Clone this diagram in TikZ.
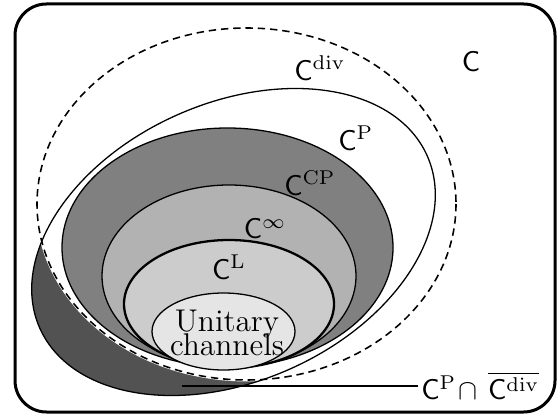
\documentclass[tikz,border=0pt]{standalone}
\usepackage{amsmath, amssymb}
\usetikzlibrary{calc}

\tikzset{
    setline/.style={black, line width=0.45pt},
    divline/.style={black, dash pattern=on 2.6pt off 1.7pt, line width=0.55pt},
}

\begin{document}
\begin{tikzpicture}[x=0.35pt, y=-0.35pt]
            \useasboundingbox (0,0) rectangle (558,420);
            \coordinate (Div) at (246.5,204);
            \coordinate (P) at (233.5,242);
            \coordinate (CP) at (227.5,247.5);
            \coordinate (Inf) at (229,276);
            \coordinate (L) at (229,304);
            \coordinate (U) at (223.5,331.5);
            \coordinate (Cut) at (182,386);

            \draw[line width=1.05pt, rounded corners=11pt] (15,4) rectangle (555,412);

            % the part of C^P lying outside C^div
            \fill[black!68, rotate around={24:(P)}] (P) ellipse [x radius=212, y radius=139];
            \fill[white] (Div) ellipse [x radius=209.5, y radius=176];
            \draw[white, line width=1pt] (Div) ellipse [x radius=209.5, y radius=176];
            \draw[setline, rotate around={24:(P)}] (P) ellipse [x radius=212, y radius=139];
            \draw[divline] (Div) ellipse [x radius=209.5, y radius=176];

            \draw[setline, fill=black!50] (CP) ellipse [x radius=165.5, y radius=119.5];
            \draw[setline, fill=black!30] (Inf) ellipse [x radius=127, y radius=91];
            \draw[black, line width=0.8pt, fill=black!20] (L) ellipse [x radius=105, y radius=64];
            \draw[setline, fill=black!10] (U) ellipse [x radius=71.5, y radius=38.5];

            \node[align=center, inner sep=0pt, font=\fontsize{11}{13.6}\selectfont] (lU) at (227,333)
                {Unitary\\[-5pt]channels};
            \node (lC) at (471,62) {$\mathsf{C}$};
            \node (lDiv) at (320,68) {$\mathsf{C}^{\mathrm{div}}$};
            \node (lP) at (356,138) {$\mathsf{C}^{\mathrm{P}}$};
            \node (lCP) at (310,183) {$\mathsf{C}^{\mathrm{CP}}$};
            \node (lInf) at (265,229) {$\mathsf{C}^{\infty}$};
            \node (lL) at (229,267) {$\mathsf{C}^{\mathrm{L}}$};
            \node[anchor=west, inner sep=1pt] (lCut) at (418,386)
                {$\mathsf{C}^{\mathrm{P}}\!\cap\,\overline{\mathsf{C}^{\mathrm{div}}}$};
            \draw[setline, line width=0.6pt] (Cut) -- (lCut.west);
        \end{tikzpicture}
\end{document}
